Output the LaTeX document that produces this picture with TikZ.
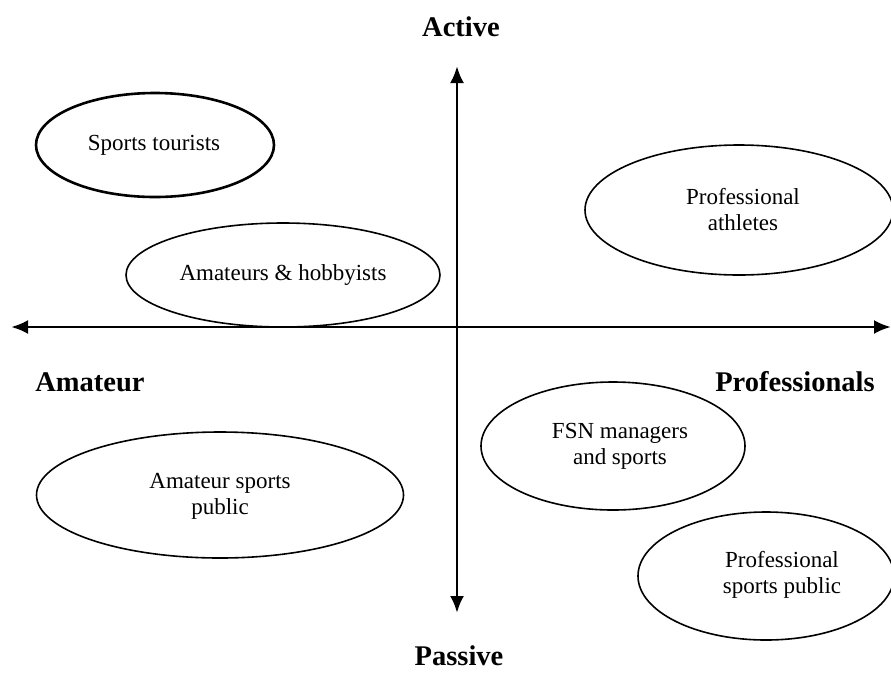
\documentclass[tikz,border=0pt]{standalone}
\usepackage{fontspec}
\setmainfont{Liberation Serif}
\usetikzlibrary{shapes.geometric,arrows.meta}
\begin{document}
\begin{tikzpicture}[x=1pt,y=-1pt,
  grp/.style={draw,ellipse,line width=1.6pt,inner sep=0pt},
  lbl/.style={align=center,font=\fontsize{23}{26}\selectfont},
  axislabel/.style={font=\fontsize{28.5}{30}\selectfont\bfseries},
  axis/.style={line width=2.8pt,-{Latex[length=17pt,width=14pt]}}]
\useasboundingbox (0,0) rectangle (891,673);
% axes
\coordinate (o) at (457,327);
\coordinate (left) at (11,327);
\coordinate (right) at (891,327);
\coordinate (top) at (457,66);
\coordinate (bottom) at (457,613);
\draw[axis] (o) -- (left);
\draw[axis] (o) -- (right);
\draw[axis] (o) -- (top);
\draw[axis] (o) -- (bottom);
% axis labels
\node[axislabel] (active) at (461,27) {Active};
\node[axislabel] (passive) at (459,656) {Passive};
\node[axislabel] (amateur) at (90,382) {Amateur};
\node[axislabel] (pros) at (795,382) {Professionals};
% groups
\node[grp,line width=2.6pt,minimum width=238pt,minimum height=104pt] (st) at (155,145) {};
\node[lbl] (stt) at (154,145) {Sports tourists};
\node[grp,minimum width=314pt,minimum height=104pt] (ah) at (283,275) {};
\node[lbl] (aht) at (283,275) {Amateurs \& hobbyists};
\node[grp,minimum width=308pt,minimum height=130pt] (pa) at (739,210) {};
\node[lbl] (pat) at (743,210) {Professional\\athletes};
\node[grp,minimum width=264pt,minimum height=128pt] (fsn) at (613,446) {};
\node[lbl] (fsnt) at (620,446) {FSN managers\\and sports};
\node[grp,minimum width=367pt,minimum height=126pt] (asp) at (220,495) {};
\node[lbl] (aspt) at (220,496) {Amateur sports\\public};
\node[grp,minimum width=256pt,minimum height=128pt] (psp) at (766,576) {};
\node[lbl] (pspt) at (782,575) {Professional\\sports public};
\end{tikzpicture}
\end{document}
